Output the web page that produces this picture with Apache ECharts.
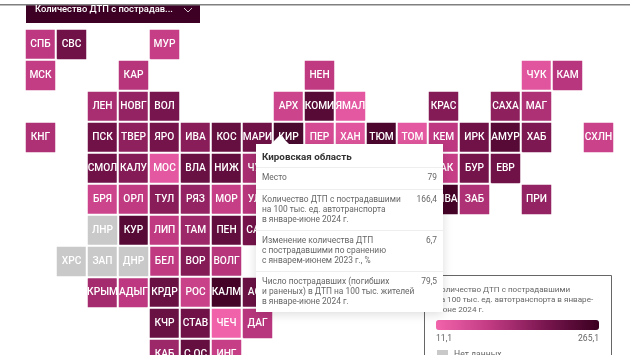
<!DOCTYPE html>
<html>
<head>
<meta charset="utf-8">
<script src="https://cdn.jsdelivr.net/npm/echarts@6/dist/echarts.min.js"></script>
<style>
  html, body { margin: 0; padding: 0; background: #fff; overflow: hidden; height: 355px; }
  /* нижний ряд плитки уходит за край кадра, поэтому холст выше окна */
  #chart { width: 630px; height: 400px; }
  .tip { position: relative; width: 187px; font-family: Roboto, sans-serif; font-size: 8.4px; line-height: 9.8px; color: #666; white-space: nowrap; }
  .tip-arrow { position: absolute; left: 15px; top: -9px; width: 0; height: 0; border-left: 9px solid transparent; border-right: 9px solid transparent; border-bottom: 9px solid #fff; }
  .tip-title { height: 23px; line-height: 26px; padding-left: 6px; font-size: 9.8px; font-weight: 700; color: #333; }
  .tip-row { display: flex; justify-content: space-between; padding: 5px 6px 0 6px; border-top: 1px solid #eee; box-sizing: border-box; }
</style>
</head>
<body>
<div id="chart"></div>
<script>
// плитка регионов: строка = ряд сетки, столбцы через запятую
const tileGrid = [
  ['СПБ', 'СВС', '', '', 'МУР'],
  ['МСК', '', '', 'КАР', '', '', '', '', '', 'НЕН', '', '', '', '', '', '', 'ЧУК', 'КАМ'],
  ['', '', 'ЛЕН', 'НОВГ', 'ВОЛ', '', '', '', 'АРХ', 'КОМИ', 'ЯМАЛ', '', '', 'КРАС', '', 'САХА', 'МАГ'],
  ['КНГ', '', 'ПСК', 'ТВЕР', 'ЯРО', 'ИВА', 'КОС', 'МАРИ', 'КИР', 'ПЕР', 'ХАН', 'ТЮМ', 'ТОМ', 'КЕМ', 'ИРК', 'АМУР', 'ХАБ', '', 'СХЛН'],
  ['', '', 'СМОЛ', 'КАЛУ', 'МОС', 'ВЛА', 'НИЖ', 'ЧУВ', '', '', '', '', '', 'ХАК', 'БУР', 'ЕВР'],
  ['', '', 'БРЯ', 'ОРЛ', 'ТУЛ', 'РЯЗ', 'МОР', 'УЛЬ', '', '', '', '', '', 'ТЫВА', 'ЗАБ', '', 'ПРИ'],
  ['', '', 'ЛНР', 'КУР', 'ЛИП', 'ТАМ', 'ПЕН', 'САМ'],
  ['', 'ХРС', 'ЗАП', 'ДНР', 'БЕЛ', 'ВОР', 'ВОЛГ'],
  ['', '', 'КРЫМ', 'АДЫГ', 'КРДР', 'РОС', 'КАЛМ', 'АСТ'],
  ['', '', '', '', 'КЧР', 'СТАВ', 'ЧЕЧ', 'ДАГ'],
  ['', '', '', '', 'КАБ', 'С.ОС', 'ИНГ']
];

const regionCodes = ['СПБ', 'СВС', 'МУР', 'МСК', 'КАР', 'НЕН', 'ЧУК', 'КАМ', 'ЛЕН', 'НОВГ', 'ВОЛ', 'АРХ', 'КОМИ', 'ЯМАЛ', 'КРАС', 'САХА', 'МАГ',
  'КНГ', 'ПСК', 'ТВЕР', 'ЯРО', 'ИВА', 'КОС', 'МАРИ', 'КИР', 'ПЕР', 'ХАН', 'ТЮМ', 'ТОМ', 'КЕМ', 'ИРК', 'АМУР', 'ХАБ', 'СХЛН',
  'СМОЛ', 'КАЛУ', 'МОС', 'ВЛА', 'НИЖ', 'ЧУВ', 'ХАК', 'БУР', 'ЕВР', 'БРЯ', 'ОРЛ', 'ТУЛ', 'РЯЗ', 'МОР', 'УЛЬ', 'ТЫВА', 'ЗАБ', 'ПРИ',
  'КУР', 'ЛИП', 'ТАМ', 'ПЕН', 'САМ', 'БЕЛ', 'ВОР', 'ВОЛГ', 'КРЫМ', 'АДЫГ', 'КРДР', 'РОС', 'КАЛМ', 'АСТ', 'КЧР', 'СТАВ', 'ЧЕЧ', 'ДАГ', 'КАБ', 'С.ОС', 'ИНГ'];
const regionValues = [100, 194, 88, 90, 108, 95, 42, 105, 125, 150, 184, 75, 227, 36, 168, 158, 118,
  118, 194, 158, 189, 163, 209, 194, 166.4, 62, 42, 240, 36, 100, 194, 227, 176, 80,
  194, 168, 36, 201, 214, 125, 88, 189, 194, 75, 95, 163, 150, 88, 108, 252, 118, 150,
  227, 95, 138, 214, 189, 95, 168, 108, 130, 100, 201, 82, 252, 201, 201, 194, 15, 105, 138, 209, 88];
const noDataCodes = ['ЛНР', 'ХРС', 'ЗАП', 'ДНР'];

const colorStops = ['#f264ac', '#c03a82', '#7a1650', '#3a0020'];
const legendTitle = 'Количество ДТП с пострадавшими\nна 100 тыс. ед. автотранспорта в январе-\nиюне 2024 г.';
const legendMin = 11.1;
const legendMax = 265.1;

const tipRows = [
  ['Место', '79'],
  ['Количество ДТП с пострадавшими<br>на 100 тыс. ед. автотранспорта<br>в январе-июне 2024 г.', '166,4'],
  ['Изменение количества ДТП<br>с пострадавшими по сранению<br>с январем-июнем 2023 г., %', '6,7'],
  ['Число пострадавших (погибших<br>и раненых) в ДТП на 100 тыс. жителей<br>в январе-июне 2024 г.', '79,5']
];

const colCount = 19;
const rowCount = 11;
const valued = [];
const noData = [];
tileGrid.forEach((row, r) => row.forEach((code, c) => {
  if (!code) return;
  if (noDataCodes.includes(code)) noData.push({ name: code, value: [c, r, 0] });
  else valued.push({ name: code, value: [c, r, regionValues[regionCodes.indexOf(code)]] });
}));

const tileLabel = { show: true, formatter: '{b}', color: '#fff', fontFamily: 'Roboto, sans-serif', fontSize: 10.2, fontWeight: 500 };

const chart = echarts.init(document.getElementById('chart'), null, { renderer: 'canvas' });
chart.setOption({
  animation: false,
  backgroundColor: '#fff',
  grid: { left: 25, top: 29, width: 31 * colCount, height: 31 * rowCount },
  xAxis: { type: 'category', show: false, data: [...Array(colCount).keys()] },
  yAxis: { type: 'category', show: false, inverse: true, data: [...Array(rowCount).keys()] },
  visualMap: {
    seriesIndex: 0,
    dimension: 2,
    type: 'continuous',
    min: legendMin,
    max: legendMax,
    orient: 'horizontal',
    left: 421,
    top: 305,
    itemWidth: 10,
    itemHeight: 163,
    calculable: false,
    hoverLink: false,
    text: null,
    showLabel: false,
    inRange: { color: colorStops },
    z: 6
  },
  tooltip: {
    trigger: 'item',
    alwaysShowContent: true,
    transitionDuration: 0,
    padding: 0,
    borderWidth: 0,
    backgroundColor: '#fff',
    extraCssText: 'border-radius:0;box-shadow:0 2px 10px rgba(0,0,0,0.14);',
    position: [256, 144],
    formatter: () => {
      const rows = tipRows.map(([name, val]) =>
        `<div class="tip-row" style="height:${name.includes('<br>') ? 41 : 22}px"><span>${name}</span><span>${val}</span></div>`).join('');
      return `<div class="tip"><div class="tip-arrow"></div><div class="tip-title">Кировская область</div>${rows}</div>`;
    }
  },
  graphic: [
    { type: 'rect', z: 5, shape: { x: 424.5, y: 275.5, width: 187, height: 100 }, style: { fill: '#fff', stroke: '#666', lineWidth: 1 } },
    { type: 'text', z: 6, x: 436, y: 285, style: { text: legendTitle, fill: '#666', font: '8.1px Roboto, sans-serif', lineHeight: 10 } },
    { type: 'text', z: 6, x: 436, y: 334, style: { text: '11,1', fill: '#666', font: '8.6px Roboto, sans-serif' } },
    { type: 'text', z: 6, x: 599, y: 334, style: { text: '265,1', fill: '#666', textAlign: 'right', font: '8.6px Roboto, sans-serif' } },
    { type: 'rect', z: 6, shape: { x: 437, y: 350, width: 11, height: 11 }, style: { fill: '#c9c9c9' } },
    { type: 'text', z: 6, x: 454, y: 350, style: { text: 'Нет данных', fill: '#666', font: '8.6px Roboto, sans-serif' } },
    { type: 'rect', z: 7, shape: { x: 0, y: 4, width: 630, height: 1.5 }, style: { fill: '#808080' } },
    { type: 'rect', z: 6, shape: { x: 26, y: 5, width: 174, height: 18 }, style: { fill: '#3d0024' } },
    { type: 'text', z: 7, x: 35, y: 5.5, style: { text: 'Количество ДТП с пострадав...', fill: '#fff', font: '500 9.4px Roboto, sans-serif' } },
    { type: 'polyline', z: 7, shape: { points: [[184, 8], [188, 12], [192, 8]] }, style: { stroke: '#fff', lineWidth: 0.8, fill: null } }
  ],
  series: [
    {
      type: 'heatmap',
      data: valued,
      label: tileLabel,
      itemStyle: { borderColor: '#fff', borderWidth: 2 },
      emphasis: { itemStyle: { color: '#4a0a30' } }
    },
    {
      name: 'Нет данных',
      type: 'heatmap',
      data: noData,
      label: tileLabel,
      itemStyle: { color: '#c9c9c9', borderColor: '#fff', borderWidth: 2 },
      tooltip: { show: false }
    }
  ]
});

// карточка и подсветка наведённого региона
const hovered = valued.findIndex((d) => d.name === 'КИР');
chart.dispatchAction({ type: 'highlight', seriesIndex: 0, dataIndex: hovered });
chart.dispatchAction({ type: 'showTip', seriesIndex: 0, dataIndex: hovered });
</script>
</body>
</html>
